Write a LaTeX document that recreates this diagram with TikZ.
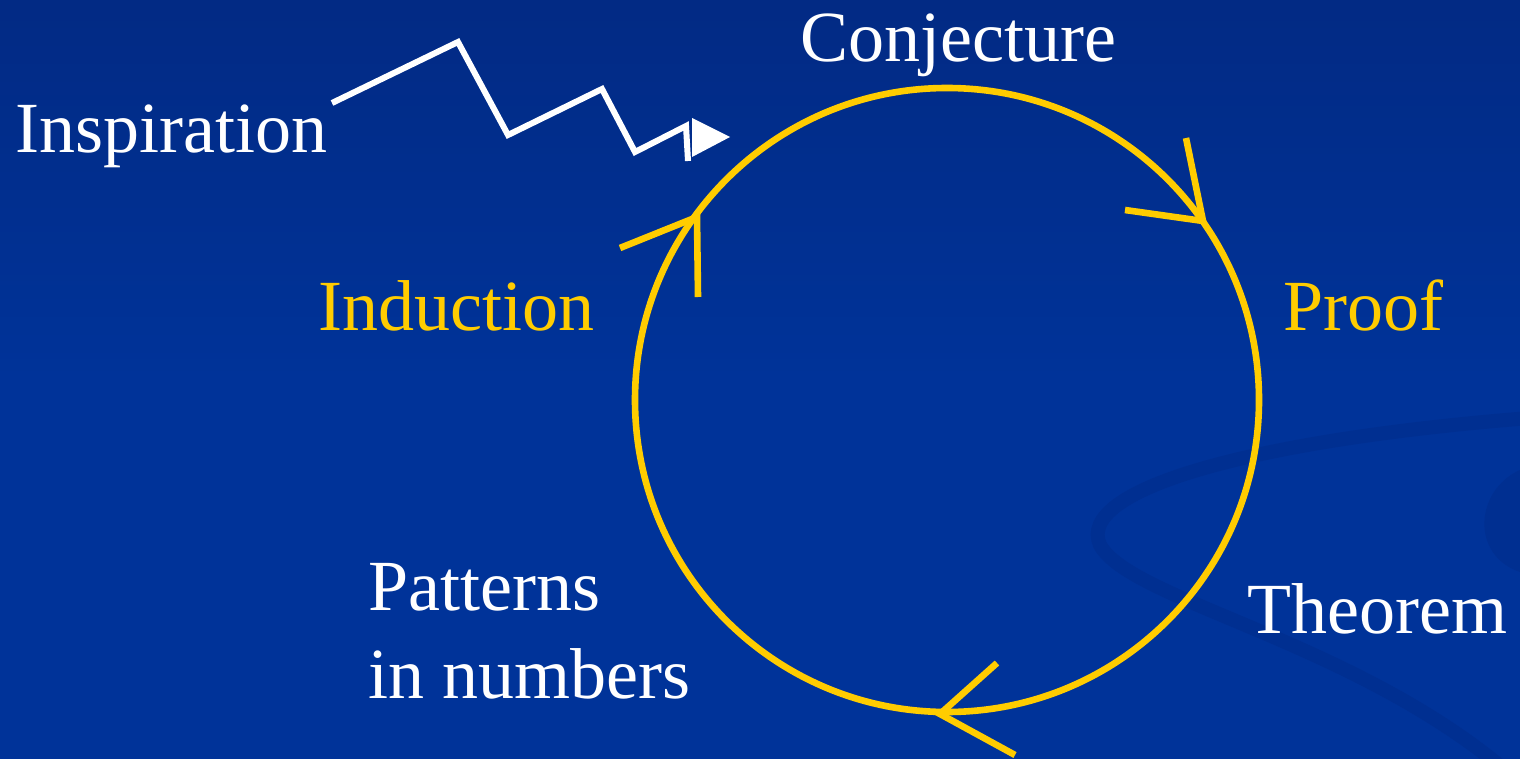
\documentclass[tikz,border=0pt]{standalone}
\usepackage{fontspec}
\setmainfont{Liberation Serif}
\usetikzlibrary{positioning}

\definecolor{slideblue}{RGB}{0,51,153}
\definecolor{slidetop}{RGB}{2,42,132}
\definecolor{swoosh}{RGB}{0,47,145}
\definecolor{gold}{RGB}{255,204,0}

\begin{document}
\begin{tikzpicture}[
  x=0.5pt, y=-0.5pt,
  label/.style={inner sep=0pt, anchor=base west, text=white,
                font=\fontsize{36}{44}\selectfont},
  goldlabel/.style={label, text=gold},
  ring/.style={draw=gold, line width=3.3pt, circle, minimum size=312pt,
               inner sep=0pt},
  chev/.style={draw=gold, line width=3.3pt},
  bolt/.style={draw=white, line width=3pt, line join=miter}]
  % background
  \useasboundingbox (0,0) rectangle (1520,759);
  \shade[top color=slidetop, bottom color=slideblue, middle color=slideblue]
    (0,0) rectangle (1520,759);
  \draw[swoosh, line width=7pt, line cap=round]
    (1530,418) .. controls (1250,440) and (1075,490) .. (1100,545)
    .. controls (1130,600) and (1350,640) .. (1505,770);
  \fill[swoosh] (1520,470) .. controls (1475,490) and (1470,555) .. (1520,572) -- cycle;

  % the cycle
  \node[ring] (cycle) at (947,400) {};
  \coordinate (tipright) at (1203,221);
  \coordinate (tipleft) at (697,217);
  \coordinate (tipbottom) at (940,714);
  \draw[chev] (tipright) ++(-17,-83) -- (tipright) -- ++(-78,-11);
  \draw[chev] (tipleft) ++(-77,31) -- (tipleft) -- ++(1,80);
  \draw[chev] (tipbottom) ++(57,-51) -- (tipbottom) -- ++(75,41);

  % labels
  \node[label] (conj) at (800,62) {Conjecture};
  \node[goldlabel] (proof) at (1283,330) {Proof};
  \node[label] (thm) at (1247,633) {Theorem};
  \node[label, align=left] (pattern) at (368,698) {Patterns\\in numbers};
  \node[goldlabel] (induct) at (318,330) {Induction};
  \node[label] (insp) at (15,153) {Inspiration};

  % inspiration bolt
  \coordinate (boltstart) at (332,103);
  \coordinate (boltend) at (688,161);
  \draw[bolt] (boltstart) -- (458,42) -- (508,135) -- (602,89)
    -- (635,152) -- (686,126) -- (boltend);
  \fill[white] (692,118) -- (730,137) -- (692,157) -- cycle;
\end{tikzpicture}
\end{document}
